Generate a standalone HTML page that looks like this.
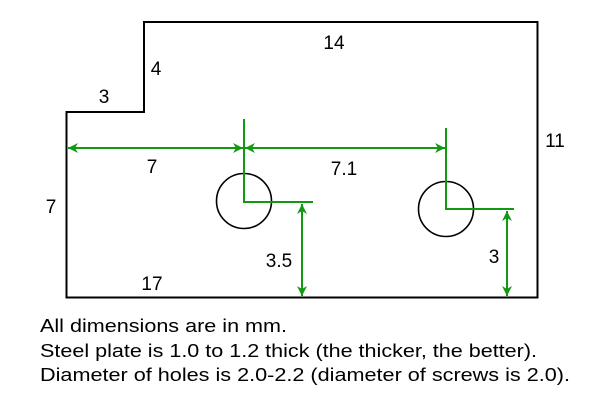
<!DOCTYPE html>
<html><head><style>body{margin:0;background:#fff}svg{display:block}</style></head><body>
<svg width="600" height="400" xmlns="http://www.w3.org/2000/svg" font-family="Liberation Sans, sans-serif" font-size="19" fill="#000">
<defs>
<marker id="a" viewBox="0 0 10 10" refX="10" refY="5" markerWidth="11" markerHeight="10" orient="auto-start-reverse" markerUnits="userSpaceOnUse"><path d="M0,0 L10,5 L0,10 L3,5 z" fill="#119911"/></marker>
</defs>
<polygon points="66.5,112 144,112 144,22 537.5,22 537.5,297.5 66.5,297.5" fill="none" stroke="#000" stroke-width="2"/>
<circle cx="244" cy="201" r="27.5" fill="none" stroke="#000" stroke-width="1.6"/>
<circle cx="446" cy="209" r="27.5" fill="none" stroke="#000" stroke-width="1.6"/>
<g stroke="#119911" stroke-width="2" fill="none">
<polyline points="244,119 244,202 313,202"/>
<polyline points="446,128 446,209 514,209"/>
<line x1="68" y1="148" x2="243" y2="148" marker-start="url(#a)" marker-end="url(#a)"/>
<line x1="245" y1="148" x2="445" y2="148" marker-start="url(#a)" marker-end="url(#a)"/>
<line x1="302" y1="204" x2="302" y2="296" marker-start="url(#a)" marker-end="url(#a)"/>
<line x1="507" y1="211" x2="507" y2="296" marker-start="url(#a)" marker-end="url(#a)"/>
</g>
<g text-anchor="middle">
<text x="334" y="49">14</text>
<text x="156" y="75">4</text>
<text x="104" y="103">3</text>
<text x="555" y="147">11</text>
<text x="51" y="213">7</text>
<text x="152" y="173">7</text>
<text x="344" y="175">7.1</text>
<text x="279" y="267">3.5</text>
<text x="494" y="263">3</text>
<text x="152" y="290">17</text>
</g>
<g font-size="18.5">
<text x="40" y="332" textLength="247" lengthAdjust="spacingAndGlyphs">All dimensions are in mm.</text>
<text x="40" y="357" textLength="497" lengthAdjust="spacingAndGlyphs">Steel plate is 1.0 to 1.2 thick (the thicker, the better).</text>
<text x="40" y="381" textLength="530" lengthAdjust="spacingAndGlyphs">Diameter of holes is 2.0-2.2 (diameter of screws is 2.0).</text>
</g>
</svg>
</body></html>
